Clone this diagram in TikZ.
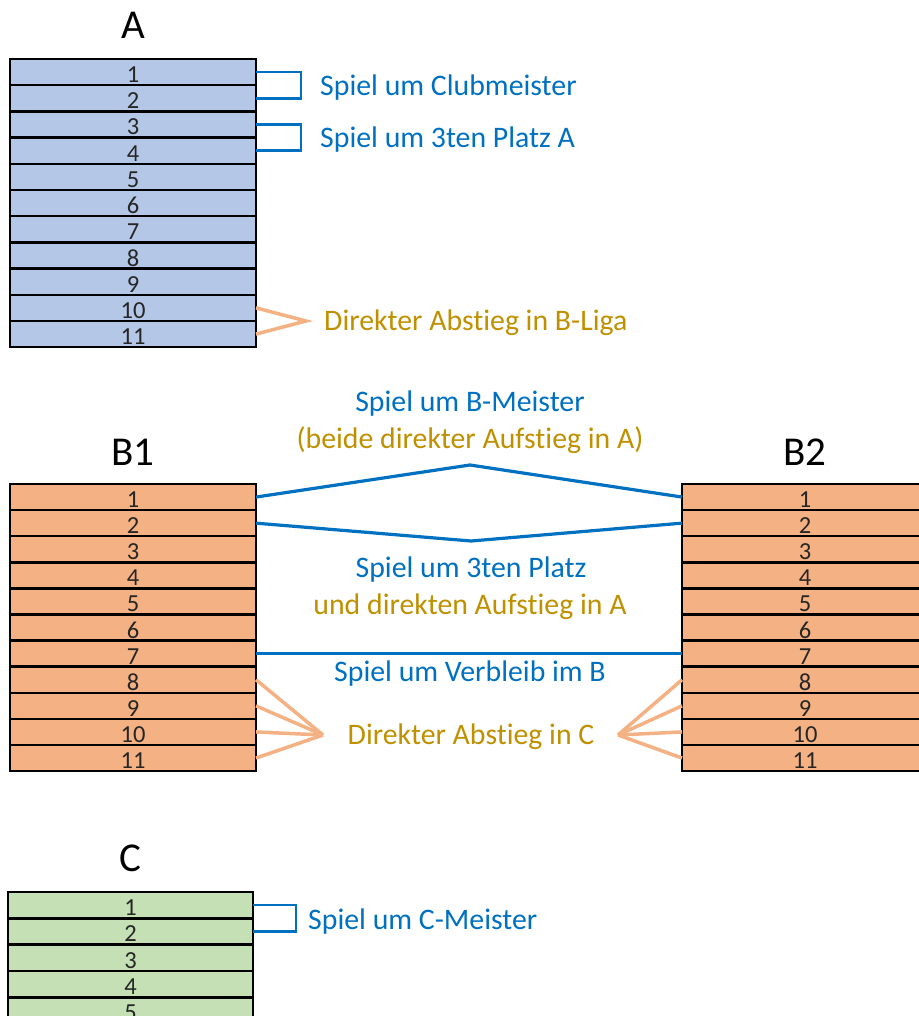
\documentclass[tikz,border=0pt]{standalone}
\usepackage{fontspec}
\setmainfont{Carlito}[Ligatures=NoCommon]
\usetikzlibrary{positioning}
\definecolor{ablue}{HTML}{B4C7E7}
\definecolor{borange}{HTML}{F4B183}
\definecolor{cgreen}{HTML}{C5E0B4}
\definecolor{linkblue}{HTML}{0070C0}
\definecolor{gold}{HTML}{BF9000}

\begin{document}
\begin{tikzpicture}[x=1pt,y=-1pt,
    row node/.style={rectangle,draw=black,line width=2.5pt,minimum width=246pt,
      minimum height=26.2pt,inner sep=0pt,outer sep=0pt,text height=21pt,
      text depth=0pt,text=black!85,font=\fontsize{24.5}{26}\selectfont},
    title node/.style={font=\fontsize{41}{44}\selectfont},
    label node/.style={font=\fontsize{29.8}{34}\selectfont,inner sep=0pt},
    blue line/.style={draw=linkblue,line width=3.2pt},
    bracket/.style={draw=linkblue,line width=2.5pt},
    orange line/.style={draw=borange,line width=3.5pt}]

  \useasboundingbox (0,0) rectangle (918,1016);

  \node[title node] (titleA) at (133,25) {A};
  \foreach \n in {1,...,11}
    \node[row node,fill=ablue] (A\n) at (133,{59+(\n-0.5)*26.2}) {\n};

  \draw[bracket] (A1.east) -- ++(45,0) |- (A2.east);
  \draw[bracket] (A3.east) -- ++(45,0) |- (A4.east);
  \node[label node,text=linkblue,anchor=west] (clubmeister) at (320,88) {Spiel um Clubmeister};
  \node[label node,text=linkblue,anchor=west] (platzA) at (320,140) {Spiel um 3ten Platz A};

  \coordinate (abA) at (306,321);
  \draw[orange line] (A10.east) -- (abA) -- (A11.east);
  \node[label node,text=gold,anchor=west] (abstiegA) at (324,323) {Direkter Abstieg in B-Liga};

  \node[title node] (titleB1) at (133,452) {B1};
  \node[title node] (titleB2) at (805,452) {B2};
  \foreach \n in {1,...,11}{
    \node[row node,fill=borange] (B1-\n) at (133,{484+(\n-0.5)*26.1}) {\n};
    \node[row node,fill=borange] (B2-\n) at (805,{484+(\n-0.5)*26.1}) {\n};
  }

  \node[label node,text=linkblue] (bmeister) at (470,404) {Spiel um B-Meister};
  \node[label node,text=gold] (beide) at (470,440) {(beide direkter Aufstieg in A)};
  \coordinate (peakB) at (470,465);
  \draw[blue line] (B1-1.east) -- (peakB) -- (B2-1.west);
  \coordinate (dipB) at (471,541);
  \draw[blue line] (B1-2.east) -- (dipB) -- (B2-2.west);
  \node[label node,text=linkblue] (platzB) at (471,570) {Spiel um 3ten Platz};
  \node[label node,text=gold] (aufstieg) at (470,607) {und direkten Aufstieg in A};

  \draw[blue line] (B1-7.east) -- (B2-7.west);
  \node[label node,text=linkblue] (verbleib) at (470,674) {Spiel um Verbleib im B};

  \coordinate (fanL) at (323,735);
  \coordinate (fanR) at (618,735);
  \foreach \n in {8,...,11}{
    \draw[orange line] (B1-\n.east) -- (fanL);
    \draw[orange line] (B2-\n.west) -- (fanR);
  }
  \node[label node,text=gold] (abstiegB) at (471,737) {Direkter Abstieg in C};

  \node[title node] (titleC) at (130,858) {C};
  \foreach \n in {1,...,5}
    \node[row node,fill=cgreen,minimum width=245pt] (C\n) at (130.5,{892+(\n-0.5)*26.3}) {\n};
  \draw[bracket] (C1.east) -- ++(43,0) |- (C2.east);
  \node[label node,text=linkblue,anchor=west] (cmeister) at (308,922) {Spiel um C-Meister};
\end{tikzpicture}
\end{document}
